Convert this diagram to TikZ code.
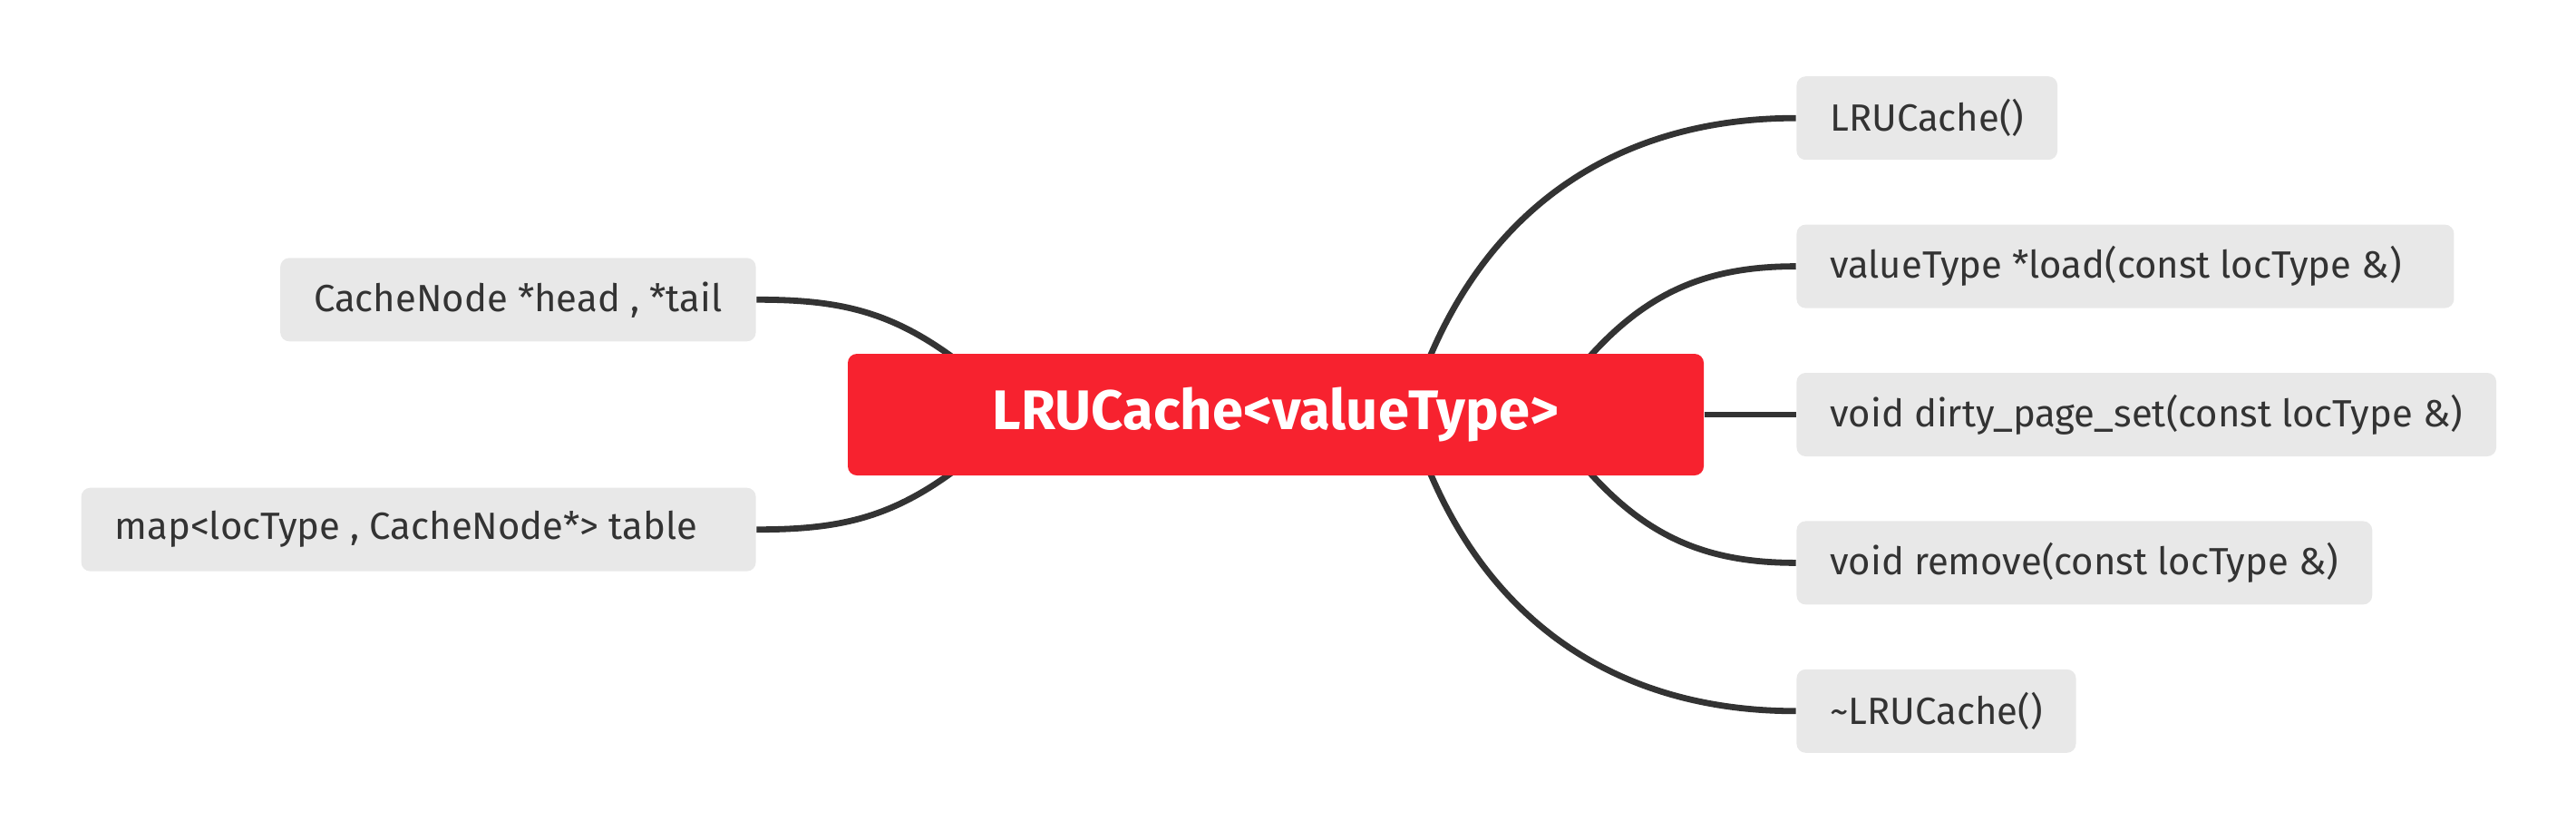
\documentclass[tikz,border=0pt]{standalone}
\usepackage{fontspec}
\setmainfont{Fira Sans}
\usepackage{tikz}
\usetikzlibrary{positioning, backgrounds}
\definecolor{headred}{RGB}{247,34,47}
\definecolor{leafgray}{RGB}{232,232,232}
\definecolor{inkgray}{RGB}{51,51,51}
\tikzset{
    mainnode/.style={rectangle, rounded corners=0.1cm, fill=headred, text=white, minimum width=9.44cm, minimum height=1.34cm, inner sep=0pt, font=\fontsize{17.5pt}{20pt}\selectfont\bfseries},
    leafnode/.style={rectangle, rounded corners=0.1cm, fill=leafgray, text=inkgray, minimum height=0.92cm, inner xsep=0.37cm, inner ysep=0pt, font=\fontsize{11.9pt}{14pt}\selectfont},
    connector/.style={line width=0.068cm, draw=inkgray}
}
\begin{document}
\begin{tikzpicture}[node distance=0.70cm and 1.01cm]
        \useasboundingbox (0,0) rectangle (28.41,-9.15);

        % Nodo centrale
        \node (cache) [mainnode] at (14.07,-4.57) {LRUCache<valueType>};

        % Metodi a destra
        \node (dirty) [leafnode, right=of cache] {void dirty\_page\_set(const locType \&)};
        \node (load) [leafnode, text width=6.51cm, align=flush left, above right=0.70cm and 0cm of dirty.north west] {valueType *load(const locType \&)};
        \node (ctor) [leafnode, above right=0.70cm and 0cm of load.north west] {LRUCache()};
        \node (remove) [leafnode, below right=0.70cm and 0cm of dirty.south west] {void remove(const locType \&)};
        \node (dtor) [leafnode, below right=0.70cm and 0cm of remove.south west] {\textasciitilde LRUCache()};

        % Membri a sinistra
        \node (head) [leafnode, above left=0.80cm and 1.00cm of cache.west] {CacheNode *head , *tail};
        \node (table) [leafnode, text width=6.70cm, align=flush left, below left=0.80cm and 1.00cm of cache.west] {map<locType , CacheNode*> table};

        % Rami
        \begin{scope}[on background layer]
            \draw [connector] ([xshift=1.70cm, yshift=-0.04cm]cache.north) to[out=67, in=180] (ctor.west);
            \draw [connector] ([xshift=3.46cm, yshift=-0.04cm]cache.north) to[out=48, in=180] (load.west);
            \draw [connector] (cache.east) -- (dirty.west);
            \draw [connector] ([xshift=3.46cm, yshift=0.04cm]cache.south) to[out=-48, in=180] (remove.west);
            \draw [connector] ([xshift=1.70cm, yshift=0.04cm]cache.south) to[out=-67, in=180] (dtor.west);
            \draw [connector] ([xshift=-3.57cm, yshift=-0.04cm]cache.north) to[out=144, in=0] (head.east);
            \draw [connector] ([xshift=-3.57cm, yshift=0.04cm]cache.south) to[out=216, in=0] (table.east);
        \end{scope}

    \end{tikzpicture}
\end{document}
